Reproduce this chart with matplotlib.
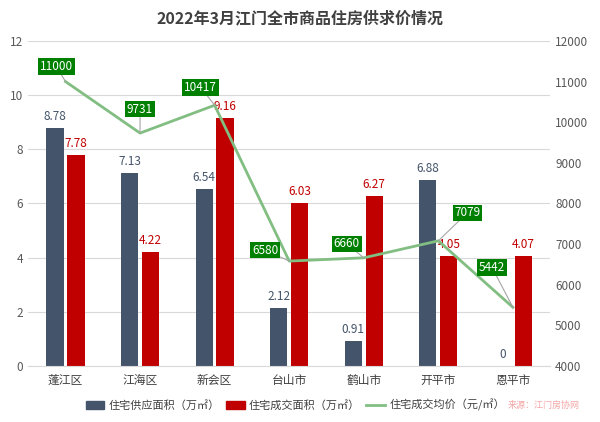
import numpy as np
import matplotlib.pyplot as plt
from matplotlib.patches import Patch
from matplotlib.lines import Line2D

plt.rcParams['font.family'] = ['Noto Sans CJK SC', 'DejaVu Sans']

cities = ['蓬江区', '江海区', '新会区', '台山市', '鹤山市', '开平市', '恩平市']
supply = [8.78, 7.13, 6.54, 2.12, 0.91, 6.88, 0]
deal = [7.78, 4.22, 9.16, 6.03, 6.27, 4.05, 4.07]
price = [11000, 9731, 10417, 6580, 6660, 7079, 5442]
# label box offsets (pixels) for price labels
price_off = [(-9, 15), (0, 24), (-14, 18), (-24, 11), (-17, 14), (29, 28), (-21, 40)]

blue = '#44546A'
red = '#C00000'
green = '#82BE82'

fig = plt.figure(figsize=(6, 4.22), dpi=100)
ax = fig.add_axes([0.047, 0.133, 0.87, 0.77])
ax2 = ax.twinx()

x = np.arange(len(cities))
w = 0.23
ax.bar(x - 0.14, supply, w, color=blue, zorder=2)
ax.bar(x + 0.14, deal, w, color=red, zorder=2)
for i in range(len(cities)):
    ax.annotate(f'{supply[i]:g}' if supply[i] else '0', (x[i] - 0.14, supply[i]),
                xytext=(0, 5), textcoords='offset pixels', ha='center', va='bottom',
                fontsize=8.5, color=blue)
    ax.annotate(f'{deal[i]:.2f}', (x[i] + 0.14, deal[i]),
                xytext=(0, 5), textcoords='offset pixels', ha='center', va='bottom',
                fontsize=8.5, color=red)

ax.set_xlim(-0.5, len(cities) - 0.5)
ax.set_ylim(0, 12)
ax.set_yticks(range(0, 13, 2))
ax.set_xticks(x)
ax.set_xticklabels(cities, fontsize=9.5, color='#404040')
ax.tick_params(length=0, labelsize=8.5, colors='#595959')
ax.tick_params(axis='x', pad=6, labelcolor='#404040')
ax.yaxis.grid(True, color='#D9D9D9', lw=0.8, zorder=0)
ax.set_axisbelow(True)
for s in ['top', 'left', 'right']:
    ax.spines[s].set_visible(False)
ax.spines['bottom'].set_color('#D9D9D9')

ax2.plot(x, price, color=green, lw=2, zorder=3)
ax2.set_ylim(4000, 12000)
ax2.set_yticks(range(4000, 12001, 1000))
ax2.tick_params(length=0, labelsize=8.5, colors='#595959')
for s in ax2.spines.values():
    s.set_visible(False)
for i in range(len(cities)):
    ax2.annotate(str(price[i]), (x[i], price[i]), xytext=price_off[i],
                 textcoords='offset pixels', ha='center', va='center',
                 fontsize=8.5, color='white',
                 bbox=dict(boxstyle='square,pad=0.15', fc='#008000', ec='none'),
                 arrowprops=dict(arrowstyle='-', color='#A6A6A6', lw=0.8,
                                 shrinkA=0, shrinkB=0))

fig.suptitle('2022年3月江门全市商品住房供求价情况', y=0.975, fontsize=11.5,
             fontweight='bold', color='#404040')

handles = [Patch(color=blue), Patch(color=red), Line2D([], [], color=green, lw=2)]
labels = ['住宅供应面积（万㎡）', '住宅成交面积（万㎡）', '住宅成交均价（元/㎡）']
fig.legend(handles, labels, loc='center', bbox_to_anchor=(0.492, 0.04), ncol=3,
           frameon=False, fontsize=8, handlelength=1.7, handleheight=0.7,
           columnspacing=0.5, handletextpad=0.4, labelcolor='#404040')
fig.text(0.967, 0.04, '来源：江门房协网', ha='right', va='center',
         fontsize=6.5, color='#F4A6A6')

fig.savefig('out.png', dpi=100)
